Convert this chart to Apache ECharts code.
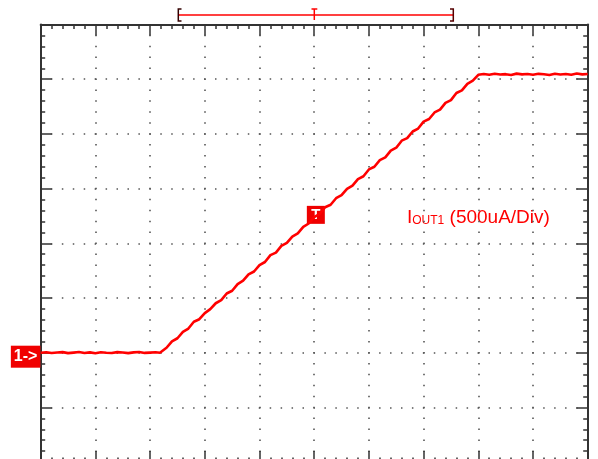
<!DOCTYPE html>
<html>
<head>
<meta charset="utf-8">
<title>IOUT1 ramp</title>
<script src="https://cdn.jsdelivr.net/npm/echarts@6.0.0/dist/echarts.min.js"></script>
<style>
  html, body { margin: 0; padding: 0; background: #fff; }
  #chart { width: 598px; height: 459px; }
</style>
</head>
<body>
<div id="chart"></div>
<script>
// time in divisions, current in mA (500uA/Div)
let flatLow = [
  [0.0, 0.000], [0.1, 0.004], [0.2, -0.003], [0.3, 0.002], [0.4, 0.005], [0.5, -0.004],
  [0.6, 0.001], [0.7, 0.006], [0.8, -0.002], [0.9, 0.003], [1.0, -0.005], [1.1, 0.004],
  [1.2, 0.000], [1.3, -0.003], [1.4, 0.005], [1.5, 0.002], [1.6, -0.004], [1.7, 0.003],
  [1.8, 0.006], [1.9, -0.002], [2.0, 0.001], [2.1, 0.004], [2.18, 0.000]
];
let rampUp = [
  [2.2, 0.012], [2.3, 0.045], [2.4, 0.104], [2.5, 0.132], [2.6, 0.190], [2.7, 0.221],
  [2.8, 0.283], [2.9, 0.306], [3.0, 0.362], [3.1, 0.398], [3.2, 0.452], [3.3, 0.480],
  [3.4, 0.541], [3.5, 0.566], [3.6, 0.627], [3.7, 0.658], [3.8, 0.716], [3.9, 0.742],
  [4.0, 0.801], [4.1, 0.829], [4.2, 0.892], [4.3, 0.915], [4.4, 0.976], [4.5, 1.003],
  [4.6, 1.061], [4.7, 1.090], [4.8, 1.150], [4.9, 1.181], [5.0, 1.240], [5.1, 1.268],
  [5.2, 1.330], [5.3, 1.352], [5.4, 1.412], [5.5, 1.440], [5.6, 1.498], [5.7, 1.528],
  [5.8, 1.587], [5.9, 1.613], [6.0, 1.675], [6.1, 1.700], [6.2, 1.760], [6.3, 1.786],
  [6.4, 1.847], [6.5, 1.874], [6.6, 1.938], [6.7, 1.961], [6.8, 2.022], [6.9, 2.049],
  [7.0, 2.112], [7.1, 2.136], [7.2, 2.196], [7.3, 2.222], [7.4, 2.284], [7.5, 2.309],
  [7.6, 2.374], [7.7, 2.398], [7.8, 2.458], [7.9, 2.487], [8.0, 2.540]
];
let flatHigh = [
  [8.1, 2.548], [8.2, 2.541], [8.3, 2.550], [8.4, 2.543], [8.5, 2.546], [8.6, 2.539],
  [8.7, 2.551], [8.8, 2.544], [8.9, 2.547], [9.0, 2.540], [9.1, 2.549], [9.2, 2.545],
  [9.3, 2.538], [9.4, 2.550], [9.5, 2.543], [9.6, 2.547], [9.7, 2.541], [9.8, 2.552],
  [9.9, 2.544], [10.0, 2.548]
];
let triggerPoint = [5.03, 1.26];
let xRange = [0, 10];
let yRange = [-1.0, 3.0];

let traceRed = "#ff0000";
let gridColor = "#333333";
let fontName = "'Liberation Sans', Arial, sans-serif";

function scopeAxis(pos, min, max, interval, withGrid) {
  return {
    type: "value",
    position: pos,
    min: min,
    max: max,
    interval: interval,
    axisLine: { show: true, onZero: false, lineStyle: { color: gridColor, width: 2 } },
    axisTick: { show: true, inside: true, length: 11, lineStyle: { color: gridColor, width: 1.5 } },
    minorTick: { show: true, splitNumber: 5, length: 4.5, lineStyle: { color: gridColor, width: 1.5 } },
    axisLabel: { show: false },
    splitLine: {
      show: withGrid,
      lineStyle: { color: "#555", width: 1.6, type: [1.5, 9.44], dashOffset: 0.75 },
    },
  };
}

let leftAxis = scopeAxis("left", yRange[0], yRange[1], 0.5, true);
// channel 1 ground marker, sits a little below the 0 line
leftAxis.axisLabel = {
  show: true,
  margin: 0,
  formatter: (v) => (v === 0 ? "{m|1->}{g| }" : ""),
  rich: {
    m: {
      color: "#fff",
      backgroundColor: "#f00000",
      fontFamily: fontName,
      fontWeight: "bold",
      fontSize: 16,
      lineHeight: 18,
      padding: [3, 3, 3, 3],
      verticalAlign: "bottom",
    },
    g: { fontSize: 1, lineHeight: 30, verticalAlign: "bottom" },
  },
};

let option = {
  animation: false,
  backgroundColor: "#ffffff",
  grid: {
    left: 40.7,
    top: 24.5,
    width: 547,
    height: 437.6,
    outerBoundsMode: "none",
    containLabel: false,
  },
  xAxis: [
    scopeAxis("bottom", xRange[0], xRange[1], 1, true),
    scopeAxis("top", xRange[0], xRange[1], 1, false),
  ],
  yAxis: [leftAxis, scopeAxis("right", yRange[0], yRange[1], 0.5, false)],
  series: [
    {
      type: "line",
      data: flatLow.concat(rampUp, flatHigh),
      showSymbol: false,
      lineStyle: { color: traceRed, width: 2.6 },
      z: 5,
      markPoint: {
        symbol: "rect",
        symbolSize: 18,
        itemStyle: { color: "#ee0000" },
        label: {
          show: true,
          position: "inside",
          formatter: "T",
          color: "#fff",
          fontFamily: fontName,
          fontWeight: "bold",
          fontSize: 15,
        },
        data: [{ coord: triggerPoint }],
      },
    },
  ],
  graphic: [
    // memory window bar above the screen
    { type: "line", shape: { x1: 178, y1: 15, x2: 453, y2: 15 }, style: { stroke: "#ff0000", lineWidth: 1.5 } },
    { type: "polyline", shape: { points: [[181.5, 9], [178.3, 9], [178.3, 21], [181.5, 21]] }, style: { stroke: "#300", lineWidth: 1.5, fill: null } },
    { type: "polyline", shape: { points: [[450, 9], [453.3, 9], [453.3, 21], [450, 21]] }, style: { stroke: "#500", lineWidth: 1.5, fill: null } },
    { type: "line", shape: { x1: 311.5, y1: 9, x2: 317.3, y2: 9 }, style: { stroke: "#ff0000", lineWidth: 1.5 } },
    { type: "line", shape: { x1: 314.3, y1: 9, x2: 314.3, y2: 20 }, style: { stroke: "#ff0000", lineWidth: 1.5 } },
    {
      type: "text",
      x: 407,
      y: 227,
      style: {
        text: "{a|I}{b|OUT1}{a| (500uA/Div)}",
        verticalAlign: "bottom",
        rich: {
          a: { fill: "#ff0000", fontFamily: fontName, fontSize: 19, lineHeight: 20, verticalAlign: "bottom" },
          b: { fill: "#ff0000", fontFamily: fontName, fontSize: 12, lineHeight: 12, verticalAlign: "bottom" },
        },
      },
    },
  ],
};

let myChart = echarts.init(document.getElementById("chart"), null, { renderer: "canvas" });
myChart.setOption(option);
</script>
</body>
</html>
